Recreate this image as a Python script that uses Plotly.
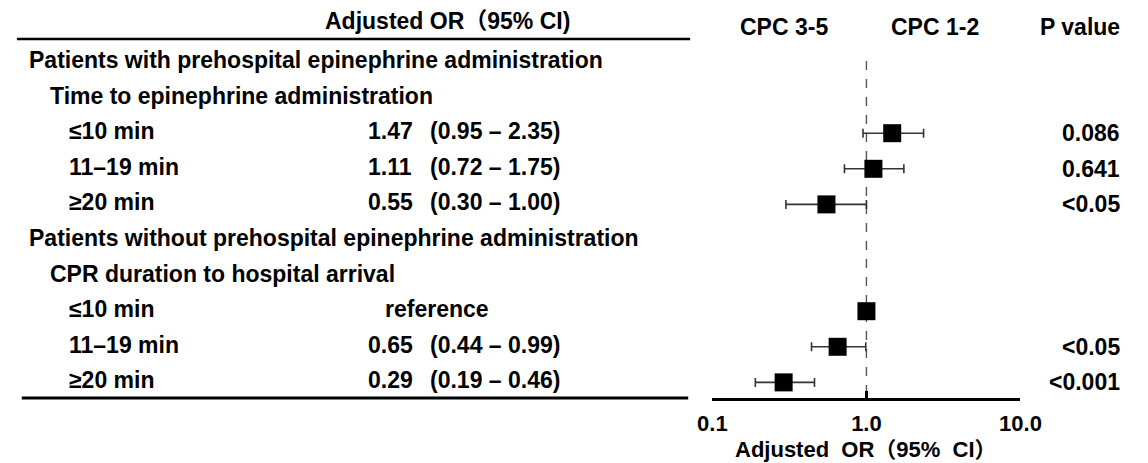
import plotly.graph_objects as go

# ---------------- data ----------------
row_labels = [
    "Patients with prehospital epinephrine administration",
    "Time to epinephrine administration",
    "≤10 min",
    "11–19 min",
    "≥20 min",
    "Patients without prehospital epinephrine administration",
    "CPR duration to hospital arrival",
    "≤10 min",
    "11–19 min",
    "≥20 min",
]
row_levels = [0, 1, 2, 2, 2, 0, 1, 2, 2, 2]
odds_ratio = [None, None, 1.47, 1.11, 0.55, None, None, 1.00, 0.65, 0.29]
ci_low = [None, None, 0.95, 0.72, 0.30, None, None, None, 0.44, 0.19]
ci_high = [None, None, 2.35, 1.75, 1.00, None, None, None, 0.99, 0.46]
p_values = ["", "", "0.086", "0.641", "<0.05", "", "", "", "<0.05", "<0.001"]
or_text = ["", "", "1.47", "1.11", "0.55", "", "", "", "0.65", "0.29"]
ci_text = ["", "", "(0.95 – 2.35)", "(0.72 – 1.75)", "(0.30 – 1.00)", "", "", "reference",
           "(0.44 – 0.99)", "(0.19 – 0.46)"]
tick_vals = [0.1, 1, 10]
tick_text = ["0.1", "1.0", "10.0"]

# ---------------- layout constants (pixels) ----------------
W, H = 1148, 463
FONT = "Liberation Sans, Arial, Noto Sans CJK SC, sans-serif"
FS = 23
row0_px, row_step = 62.0, 35.6
axis_px = 398.0
x_left_px, x_right_px = 720.0, 1038.0
indent_px = [12, 34, 54]
or_x_px, ci_x_px, ref_x_px = 362, 426, 380
p_right_px = 1143


def px_x(p):
    return p / W


def px_y(p):
    return 1 - p / H


y_top = -row0_px / row_step
y_bot = (axis_px - row0_px) / row_step

font = dict(family=FONT, size=FS, color="black", weight="bold")
font_ax = dict(family=FONT, size=22, color="black", weight="bold")

idx = [i for i, v in enumerate(odds_ratio) if v is not None]
xs = [odds_ratio[i] for i in idx]
plus = [(ci_high[i] - odds_ratio[i]) if ci_high[i] is not None else 0 for i in idx]
minus = [(odds_ratio[i] - ci_low[i]) if ci_low[i] is not None else 0 for i in idx]

fig = go.Figure()
fig.add_trace(go.Scatter(
    x=xs, y=idx, mode="markers",
    marker=dict(symbol="square", size=18, color="black", line=dict(width=0)),
    error_x=dict(type="data", symmetric=False, array=plus, arrayminus=minus,
                 color="#333333", thickness=1.6, width=4.5),
    showlegend=False, hoverinfo="skip",
))

ann = []
for i, lab in enumerate(row_labels):
    ann.append(dict(x=px_x(indent_px[row_levels[i]]), y=i, xref="paper", yref="y",
                    text=lab, xanchor="left", yanchor="middle", showarrow=False,
                    font=font, yshift=2))
    if or_text[i]:
        ann.append(dict(x=px_x(or_x_px), y=i, xref="paper", yref="y", text=or_text[i],
                        xanchor="left", yanchor="middle", showarrow=False, font=font, yshift=2))
    if ci_text[i]:
        xx = ref_x_px if ci_text[i] == "reference" else ci_x_px
        ann.append(dict(x=px_x(xx), y=i, xref="paper", yref="y", text=ci_text[i],
                        xanchor="left", yanchor="middle", showarrow=False, font=font, yshift=2))
    if p_values[i]:
        ann.append(dict(x=px_x(p_right_px), y=i, xref="paper", yref="y", text=p_values[i],
                        xanchor="right", yanchor="middle", showarrow=False, font=font))

# headers
ann.append(dict(x=px_x(575), y=px_y(21), xref="paper", yref="paper", text="Adjusted OR（95% CI)",
                xanchor="right", yanchor="middle", showarrow=False, font=font))
ann.append(dict(x=px_x(794), y=px_y(27), xref="paper", yref="paper", text="CPC 3-5",
                xanchor="center", yanchor="middle", showarrow=False, font=font))
ann.append(dict(x=px_x(950), y=px_y(27), xref="paper", yref="paper", text="CPC 1-2",
                xanchor="center", yanchor="middle", showarrow=False, font=font))
ann.append(dict(x=px_x(1143), y=px_y(27), xref="paper", yref="paper", text="P value",
                xanchor="right", yanchor="middle", showarrow=False, font=font))
# axis title
ann.append(dict(x=px_x((x_left_px + x_right_px) / 2), y=px_y(449), xref="paper", yref="paper",
                text="Adjusted  OR（95%  CI）", xanchor="center", yanchor="middle",
                showarrow=False, font=font_ax))

shapes = [
    dict(type="line", xref="paper", yref="paper", x0=px_x(2), x1=px_x(697),
         y0=px_y(39), y1=px_y(39), line=dict(color="black", width=2.6)),
    dict(type="line", xref="paper", yref="paper", x0=px_x(7), x1=px_x(695),
         y0=px_y(axis_px), y1=px_y(axis_px), line=dict(color="black", width=3)),
    dict(type="line", xref="x", yref="y", x0=1, x1=1, y0=-0.03, y1=y_bot,
         line=dict(color="#555555", width=1.4, dash="dash"), layer="below"),
]

fig.update_layout(
    width=W, height=H, autosize=False,
    margin=dict(l=0, r=0, t=0, b=0),
    paper_bgcolor="white", plot_bgcolor="white",
    showlegend=False,
    annotations=ann, shapes=shapes,
    xaxis=dict(type="log", range=[-1, 1],
               domain=[px_x(x_left_px), px_x(x_right_px)],
               tickvals=tick_vals, ticktext=tick_text,
               ticks="inside", ticklen=7, tickwidth=3, tickcolor="black",
               showline=True, linewidth=3, linecolor="black",
               showgrid=False, zeroline=False,
               tickfont=font_ax, ticklabelstandoff=4),
    yaxis=dict(range=[y_bot, y_top], domain=[1 - axis_px / H, 1],
               visible=False, showgrid=False, zeroline=False),
)

fig.write_html("out.html", config={"displayModeBar": False, "staticPlot": True},
               post_script="document.body.style.margin='0px';")
